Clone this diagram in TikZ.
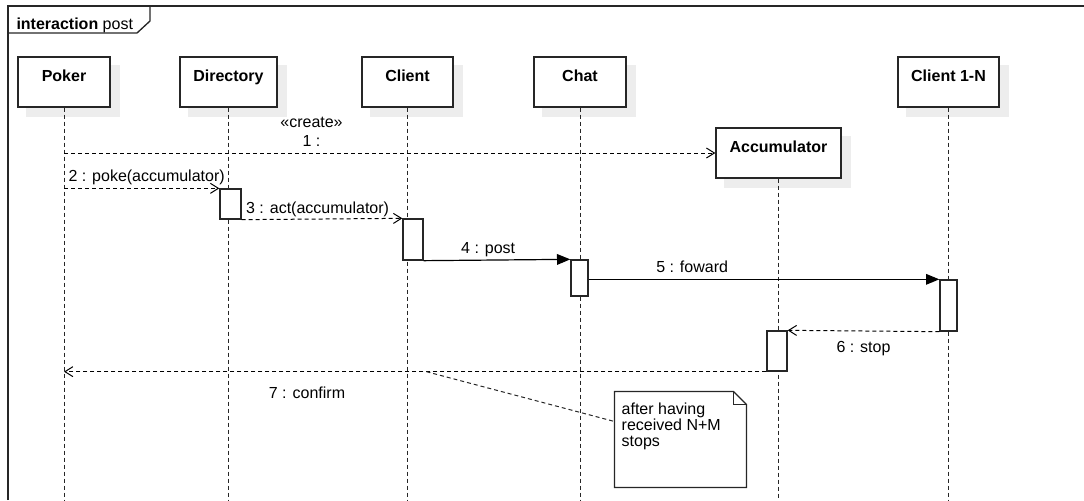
\documentclass[tikz,border=0pt]{standalone}
\usepackage{fontspec}
\setmainfont{Liberation Sans}
\usetikzlibrary{arrows.meta,calc,backgrounds}

\tikzset{every picture/.style={line width=0.75pt}}
\tikzset{
  lifebox/.style={draw=black!85, line width=1pt, fill=white, inner sep=0pt,
    minimum height=37.5pt, text height=18.5pt, text depth=19pt, font=\bfseries},
  lifeline/.style={draw=black!85, dash pattern=on 3pt off 2.25pt},
  actbar/.style={draw=black!85, line width=1pt, fill=white, inner sep=0pt},
  callmsg/.style={draw=black, line width=0.9pt, -{Triangle[length=10pt,width=8pt]}},
  dashmsg/.style={draw=black, dash pattern=on 3pt off 2.25pt, -{Straight Barb[length=6pt,width=7.5pt]}},
  msglabel/.style={inner xsep=3pt, inner ysep=1.5pt, text height=0.75em, text depth=0.25em},
  shadowbox/.style={fill=black!7},
  notetext/.style={inner sep=2pt, align=left, font=\fontsize{12}{12}\selectfont},
}

\begin{document}
\fontsize{12}{14}\selectfont
\begin{tikzpicture}[x=0.75pt,y=0.75pt,yscale=-1,xscale=1]
\useasboundingbox (0,0) rectangle (1084,500);
\coordinate (bottom) at (0,500);

%Frame
\draw[line width=1.2pt, black!85] (8,500) -- (8,6) -- (1084,6);
\draw[line width=1pt, black!85] (8,33) -- (137,33) -- (150,21) -- (150,6);
% Text Node
\node[anchor=base west, inner sep=0pt] (frametitle) at (16,29) {\textbf{interaction} post};

%Lifeline heads
\node[lifebox, minimum width=69pt] (poker) at (64,82) {Poker};
\node[lifebox, minimum width=72.75pt] (directory) at (228.5,82) {Directory};
\node[lifebox, minimum width=68.25pt] (client) at (407.5,82) {Client};
\node[lifebox, minimum width=69pt] (chat) at (580,82) {Chat};
\node[lifebox, minimum width=75.75pt] (clientn) at (948.5,82) {Client 1-N};
\node[lifebox, minimum width=93.75pt] (acc) at (778.5,153) {Accumulator};

%Shadows
\begin{scope}[on background layer]
\foreach \n in {poker,directory,client,chat,clientn,acc}
  \fill[shadowbox] ($(\n.north west)+(9,9)$) rectangle ($(\n.south east)+(9,9)$);
\end{scope}

%Lifelines
\foreach \n in {poker,directory,client,chat,clientn,acc}
  \draw[lifeline] (\n.south) -- (\n.south |- bottom);

%Activation bars
\node[actbar, minimum width=15.75pt, minimum height=22.5pt] (dirbar) at (230.5,204) {};
\node[actbar, minimum width=15pt, minimum height=30.75pt] (clientbar) at (413,239.5) {};
\node[actbar, minimum width=12.75pt, minimum height=27pt] (chatbar) at (579.5,278) {};
\node[actbar, minimum width=12.75pt, minimum height=38.25pt] (clientnbar) at (948.5,305.5) {};
\node[actbar, minimum width=15pt, minimum height=30pt] (accbar) at (777,351) {};

%Messages
\draw[dashmsg] (poker |- acc.west) -- (acc.west) node[above=3pt, pos=0.38, align=center, inner sep=1.5pt] (m1label) {«create»\\1 :};
\draw[dashmsg] (poker |- dirbar.north west) -- (dirbar.north west) node[msglabel, anchor=south west, pos=0] (m2label) {2 : poke(accumulator)};
\draw[dashmsg] (dirbar.south east) -- (clientbar.north west) node[msglabel, anchor=south west, pos=0] (m3label) {3 : act(accumulator)};
\draw[callmsg] (clientbar.south east) -- (chatbar.north west) node[msglabel, above, pos=0.44] (m4label) {4 : post};
\draw[callmsg] (chatbar.east |- clientnbar.north west) -- (clientnbar.north west) node[msglabel, above, pos=0.295] (m5label) {5 : foward};
\draw[dashmsg] (clientnbar.south west) -- (accbar.north east) node[msglabel, below=5pt, midway] (m6label) {6 : stop};
\draw[dashmsg] (accbar.south west) -- (poker |- accbar.south west) node[msglabel, below=9pt, pos=0.654] (m7label) {7 : confirm} coordinate[pos=0.484] (notehook);

%Note
\node[fill=white, minimum width=98.25pt, minimum height=71.25pt, inner sep=0pt] (note) at (680.5,439.5) {};
\draw[black!85, line width=1pt] (note.north west) -- ($(note.north east)+(-13,0)$) -- ($(note.north east)+(0,13)$) -- (note.south east) -- (note.south west) -- cycle;
\draw[black!85] ($(note.north east)+(-13,0)$) -- ($(note.north east)+(-13,13)$) -- ($(note.north east)+(0,13)$);
\node[notetext, anchor=north west] (notetxt) at ($(note.north west)+(4,8)$) {after having\\received N+M\\stops};
\draw[lifeline] (notehook) -- ($(note.north west)+(0,30)$);

\end{tikzpicture}
\end{document}
